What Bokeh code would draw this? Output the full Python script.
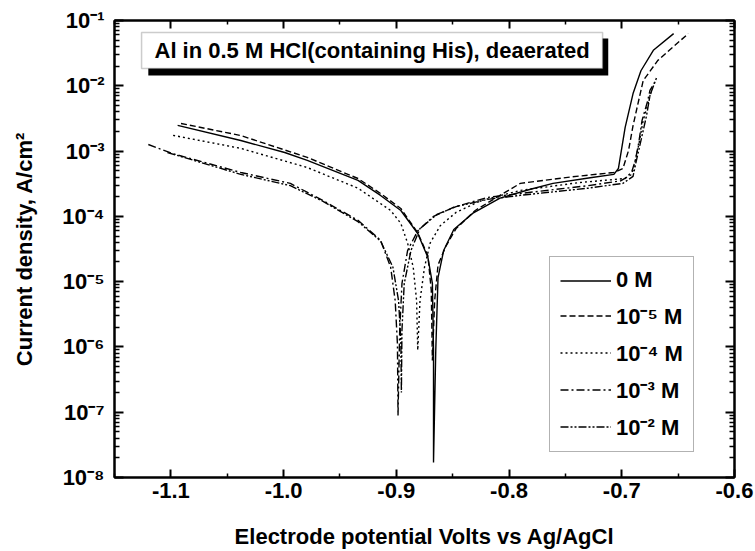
from bokeh.plotting import figure
from bokeh.models import (FixedTicker, LinearAxis, LogAxis, CustomJSTickFormatter,
                          NumeralTickFormatter, Legend, LegendItem, Label,
                          BoxAnnotation, Range1d)
from bokeh.embed import file_html
from bokeh.resources import INLINE

# ---------------- data ----------------
series_names = ["0 M", "10\u207b\u2075 M", "10\u207b\u2074 M", "10\u207b\u00b3 M", "10\u207b\u00b2 M"]

v_0M = [-1.094, -1.038, -0.999, -0.979, -0.934, -0.914, -0.896, -0.881, -0.872, -0.868, -0.867, -0.867,
        -0.865, -0.863, -0.858, -0.849, -0.832, -0.808, -0.781, -0.761, -0.728, -0.707, -0.703,
        -0.697, -0.690, -0.683, -0.672, -0.654]
i_0M = [2.47e-3, 1.45e-3, 9.5e-4, 7.2e-4, 3.55e-4, 2.09e-4, 1.23e-4, 5.47e-5, 2.35e-5, 9.4e-6, 8.9e-7, 1.7e-8,
        8.9e-7, 1.15e-5, 3.0e-5, 6.3e-5, 1.12e-4, 1.9e-4, 2.6e-4, 3.2e-4, 3.9e-4, 4.4e-4, 5.4e-4,
        2.3e-3, 7.6e-3, 1.7e-2, 3.5e-2, 6.3e-2]

v_1e5 = [-1.091, -1.038, -0.979, -0.934, -0.914, -0.896, -0.881, -0.872, -0.869, -0.868,
         -0.866, -0.863, -0.856, -0.847, -0.830, -0.808, -0.790, -0.746, -0.707, -0.699,
         -0.694, -0.690, -0.686, -0.681, -0.668, -0.641]
i_1e5 = [2.65e-3, 1.73e-3, 8.0e-4, 3.8e-4, 2.24e-4, 1.32e-4, 5.6e-5, 2.5e-5, 7.4e-6, 6.2e-7,
         5.1e-6, 1.8e-5, 3.5e-5, 6.5e-5, 1.23e-4, 2.1e-4, 3.2e-4, 4.0e-4, 4.7e-4, 5.4e-4,
         1.02e-3, 2.45e-3, 5.0e-3, 1.2e-2, 2.45e-2, 6.3e-2]

v_1e4 = [-1.098, -1.038, -0.979, -0.934, -0.905, -0.896, -0.890, -0.885, -0.882, -0.881,
         -0.879, -0.875, -0.870, -0.861, -0.847, -0.825, -0.790, -0.737, -0.697,
         -0.690, -0.685, -0.681, -0.676, -0.673]
i_1e4 = [1.74e-3, 1.1e-3, 5.6e-4, 2.7e-4, 1.23e-4, 7.8e-5, 3.9e-5, 1.66e-5, 5.1e-6, 8.9e-7,
         5.1e-6, 1.66e-5, 3.9e-5, 7.2e-5, 1.15e-4, 1.74e-4, 2.5e-4, 3.3e-4, 3.8e-4,
         5.0e-4, 1.23e-3, 2.95e-3, 5.9e-3, 9.1e-3]

v_1e3 = [-1.120, -1.098, -1.038, -0.994, -0.965, -0.934, -0.914, -0.905, -0.901, -0.899, -0.8985,
         -0.897, -0.895, -0.890, -0.881, -0.867, -0.849, -0.819, -0.790, -0.730, -0.701,
         -0.692, -0.688, -0.685, -0.682, -0.677, -0.675, -0.671]
i_1e3 = [1.26e-3, 9.1e-4, 4.7e-4, 3.2e-4, 1.74e-4, 8.7e-5, 4.3e-5, 1.66e-5, 5.1e-6, 1.1e-6, 8.9e-8,
         1.8e-6, 9.3e-6, 3.0e-5, 6.0e-5, 1.0e-4, 1.38e-4, 1.95e-4, 2.24e-4, 2.95e-4, 3.5e-4,
         4.3e-4, 7.2e-4, 1.32e-3, 2.95e-3, 5.9e-3, 8.5e-3, 1.12e-2]

v_1e2 = [-1.103, -1.038, -0.994, -0.965, -0.934, -0.914, -0.903, -0.898, -0.896, -0.8955,
         -0.895, -0.893, -0.887, -0.879, -0.864, -0.847, -0.819, -0.790, -0.730, -0.699,
         -0.690, -0.687, -0.683, -0.678, -0.675, -0.669]
i_1e2 = [9.5e-4, 4.4e-4, 2.95e-4, 1.7e-4, 8.3e-5, 4.2e-5, 1.66e-5, 5.1e-6, 1.26e-6, 2.0e-7,
         1.8e-6, 9.3e-6, 3.0e-5, 6.5e-5, 1.07e-4, 1.41e-4, 1.82e-4, 2.1e-4, 2.7e-4, 3.2e-4,
         4.1e-4, 7.2e-4, 1.45e-3, 3.5e-3, 7.1e-3, 1.35e-2]

x_major_ticks = [-1.1, -1.0, -0.9, -0.8, -0.7, -0.6]
x_minor_ticks = [-1.15, -1.05, -0.95, -0.85, -0.75, -0.65]
y_major_ticks = [1e-8, 1e-7, 1e-6, 1e-5, 1e-4, 1e-3, 1e-2, 1e-1]

title_text = "Al in 0.5 M HCl(containing His), deaerated"
x_label = "Electrode potential Volts vs Ag/AgCl"
y_label = "Current density, A/cm\u00b2"

# ---------------- styling ----------------
FONT = "Liberation Sans"
FS = "22px"
y_minor_ticks = [m * d for d in y_major_ticks[:-1] for m in range(2, 10)]

p = figure(width=755, height=551, x_range=Range1d(-1.15, -0.6), y_range=Range1d(1e-8, 1e-1),
           y_axis_type="log", output_backend="svg", toolbar_location=None,
           min_border_left=114, min_border_right=21, min_border_top=20, min_border_bottom=74)
p.grid.visible = False
p.outline_line_color = "black"
p.outline_line_width = 2
p.background_fill_color = "white"
p.border_fill_color = "white"

sup_code = """
const e = Math.round(Math.log10(tick));
const sup = {'-':'\u207b','0':'\u2070','1':'\u00b9','2':'\u00b2','3':'\u00b3','4':'\u2074','5':'\u2075','6':'\u2076','7':'\u2077','8':'\u2078','9':'\u2079'};
return '10' + String(e).split('').map(c => sup[c]).join('');
"""


def style_axis(ax, major_in, minor_in):
    ax.axis_line_width = 2
    ax.axis_line_color = "black"
    ax.major_tick_in = major_in
    ax.major_tick_out = 0
    ax.minor_tick_in = minor_in
    ax.minor_tick_out = 0
    ax.major_tick_line_width = 2
    ax.minor_tick_line_width = 1.5
    ax.major_label_text_font = FONT
    ax.major_label_text_font_style = "bold"
    ax.major_label_text_font_size = FS
    ax.major_label_text_color = "black"
    ax.axis_label_text_font = FONT
    ax.axis_label_text_font_style = "bold"
    ax.axis_label_text_font_size = FS
    ax.axis_label_text_color = "black"


xax = p.xaxis[0]
xax.ticker = FixedTicker(ticks=x_major_ticks, minor_ticks=x_minor_ticks)
xax.formatter = NumeralTickFormatter(format="0.0")
xax.axis_label = x_label
style_axis(xax, 8, 4)
xax.major_label_standoff = 5
xax.axis_label_standoff = 23

yax = p.yaxis[0]
yax.ticker = FixedTicker(ticks=y_major_ticks, minor_ticks=y_minor_ticks)
yax.formatter = CustomJSTickFormatter(code=sup_code)
yax.axis_label = y_label
style_axis(yax, 9, 5)
yax.major_label_standoff = 10
yax.axis_label_standoff = 22

top = LinearAxis(ticker=FixedTicker(ticks=x_major_ticks, minor_ticks=x_minor_ticks),
                 formatter=CustomJSTickFormatter(code="return ''"))
style_axis(top, 8, 4)
top.major_label_text_font_size = "0px"
p.add_layout(top, "above")

right = LogAxis(ticker=FixedTicker(ticks=y_major_ticks, minor_ticks=y_minor_ticks),
                formatter=CustomJSTickFormatter(code="return ''"))
style_axis(right, 9, 5)
right.major_label_text_font_size = "0px"
p.add_layout(right, "right")

# ---------------- curves ----------------
all_v = [v_0M, v_1e5, v_1e4, v_1e3, v_1e2]
all_i = [i_0M, i_1e5, i_1e4, i_1e3, i_1e2]
dashes = ["solid", "6 3", "2 3", "8 3 2 3", "8 2 2 2 2 2"]
renderers = []
for v, i, d in zip(all_v, all_i, dashes):
    r = p.line(v, i, line_color="black", line_width=1.4, line_dash=d)
    renderers.append(r)

legend = Legend(items=[LegendItem(label=n, renderers=[r]) for n, r in zip(series_names, renderers)],
                location=(435, 25))
legend.label_text_font = FONT
legend.label_text_font_style = "bold"
legend.label_text_font_size = FS
legend.label_text_color = "black"
legend.glyph_width = 51
legend.glyph_height = 25
legend.label_height = 25
legend.label_standoff = 5
legend.spacing = 7
legend.padding = 10
legend.margin = 0
legend.border_line_color = "#666666"
legend.border_line_width = 1.5
legend.background_fill_alpha = 1
p.add_layout(legend)

# ---------------- title box with shadow ----------------
shadow = BoxAnnotation(left=-1.120, right=-0.712, top=0.053, bottom=0.0144,
                       fill_color="black", fill_alpha=1, line_color=None)
box = BoxAnnotation(left=-1.126, right=-0.717, top=0.0655, bottom=0.0184,
                    fill_color="white", fill_alpha=1, line_color="#555555", line_width=1.5)
p.add_layout(shadow)
p.add_layout(box)
p.add_layout(Label(x=-0.9215, y=0.0347, text=title_text, text_align="center",
                   text_baseline="middle", text_font=FONT, text_font_style="bold",
                   text_font_size=FS, text_color="black"))

open("out.html", "w").write(file_html(p, INLINE))
